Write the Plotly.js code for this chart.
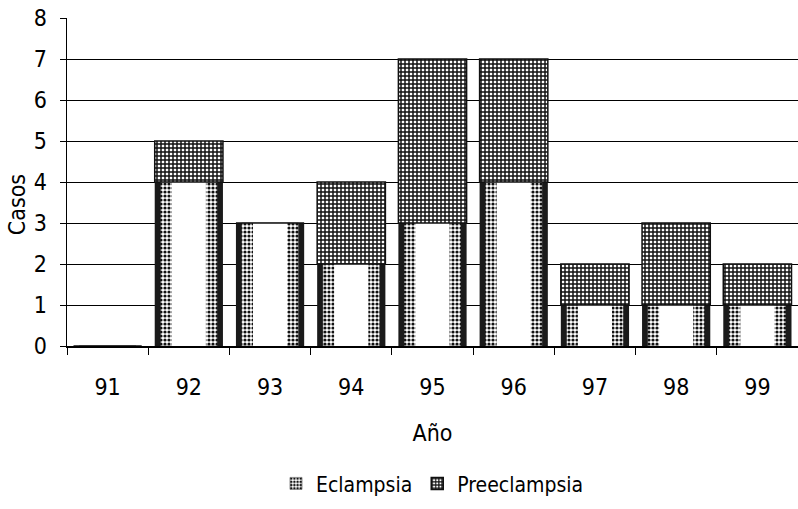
<!DOCTYPE html>
<html><head><meta charset="utf-8">
<script src="https://cdn.plot.ly/plotly-3.0.1.min.js"></script>
<style>body{margin:0;background:#fff}#c{width:798px;height:509px}</style>
</head><body><div id="c"></div>
<script>
const years = ['91','92','93','94','95','96','97','98','99'];
const eclampsia = [0,4,3,2,3,4,1,1,1];
const preeclampsia = [0,1,0,2,4,3,1,2,1];
const yTicks = [0,1,2,3,4,5,6,7,8];

const FONT = '"DejaVu Sans Condensed","Liberation Sans Narrow","Arial Narrow",sans-serif';

const traces = [
  {type:'bar', x:years, y:eclampsia, width:0.84, name:'Eclampsia', showlegend:false,
   marker:{color:'#1a1a1a', line:{width:0}}, hoverinfo:'skip'},
  {type:'bar', x:years, y:eclampsia, width:0.70, name:'Eclampsia', showlegend:true, legendrank:1,
   marker:{color:'#ffffff', line:{color:'#222', width:0.5},
     pattern:{shape:'.', fgcolor:'#111', bgcolor:'#ffffff', size:4, solidity:0.5}},
   hoverinfo:'skip'},
  {type:'bar', x:years, y:eclampsia, width:0.42, name:'Eclampsia', showlegend:false,
   marker:{color:'#ffffff', line:{width:0}}},
  {type:'bar', x:years, y:preeclampsia, base:eclampsia, width:0.84, name:'Preeclampsia', legendrank:2,
   marker:{color:'#ffffff', line:{color:'#111', width:1.5},
     pattern:{shape:'+', fgcolor:'#111', bgcolor:'#ffffff', size:4, solidity:0.6}}}
];

const layout = {
  width:798, height:509,
  margin:{l:67, r:0, t:18, b:163},
  paper_bgcolor:'#fff', plot_bgcolor:'#fff',
  barmode:'overlay',
  font:{family:FONT, color:'#000', size:23},
  xaxis:{type:'category', range:[-0.5,8.5], showline:true, linecolor:'#000', linewidth:1.5,
    ticks:'outside', tickson:'boundaries', ticklen:7, tickcolor:'#000',
    tickfont:{family:FONT, size:23}, ticklabelstandoff:20,
    title:{text:'Año', font:{family:FONT, size:23}, standoff:26}},
  yaxis:{range:[0,8], tickvals:yTicks, showline:true, linecolor:'#000', linewidth:1.5,
    ticks:'outside', ticklen:6, tickcolor:'#000', showgrid:true, gridcolor:'#000', gridwidth:1,
    zeroline:false, tickfont:{family:FONT, size:23}, ticklabelstandoff:8},
  annotations:[{text:'Casos', textangle:-90, xref:'paper', yref:'paper', x:-0.068, y:0.43,
    xanchor:'center', yanchor:'middle', showarrow:false, font:{family:FONT, size:23}}],
  legend:{orientation:'h', x:0.5, xanchor:'center', y:-0.42, yanchor:'middle',
    font:{family:FONT, size:21}, itemwidth:30, traceorder:'normal'},
  showlegend:true
};

Plotly.newPlot('c', traces, layout, {staticPlot:true});
</script></body></html>
